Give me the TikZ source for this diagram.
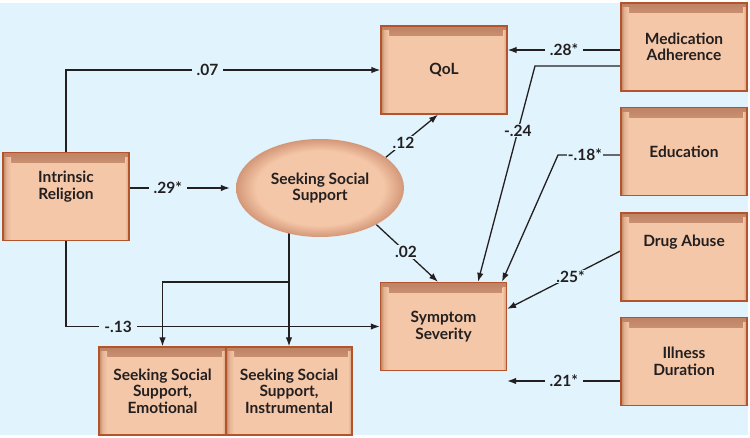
\documentclass[tikz,border=0pt]{standalone}
\usepackage{fontspec}
\setmainfont{Lato}
\usetikzlibrary{arrows.meta,shapes.geometric,calc}
\definecolor{bgblue}{HTML}{E1F3FC}
\definecolor{boxfill}{HTML}{F4C7A8}
\definecolor{boxedge}{HTML}{B4542A}
\definecolor{shadowc}{HTML}{BE8264}
\definecolor{elledge}{HTML}{D39778}
\definecolor{ink}{HTML}{231F20}
\pgfdeclarelayer{bglayer}
\pgfdeclarelayer{edgelayer}
\pgfsetlayers{bglayer,edgelayer,main}
\pgfdeclareradialshading{ellshade}{\pgfpoint{0bp}{0bp}}{color(0bp)=(boxfill); color(19bp)=(boxfill); color(25bp)=(elledge); color(50bp)=(elledge)}
\pgfdeclareverticalshading{topshade}{100bp}{color(0bp)=(boxfill); color(25bp)=(boxfill); color(55bp)=(boxfill!70!shadowc); color(75bp)=(shadowc); color(100bp)=(shadowc)}
\pgfdeclarehorizontalshading{leftshade}{100bp}{color(0bp)=(shadowc); color(25bp)=(shadowc); color(45bp)=(boxfill!70!shadowc); color(75bp)=(boxfill); color(100bp)=(boxfill)}
\begin{document}
\begin{tikzpicture}[x=1pt,y=-1pt,
  txt/.style={font=\bfseries\fontsize{15.5}{16.5}\selectfont, text=ink},
  box/.style={txt, draw=boxedge, line width=1.3pt, fill=boxfill, minimum width=126pt, minimum height=88pt, inner sep=0pt, align=center,
    path picture={
      \shade[shading=topshade] (path picture bounding box.north west) rectangle ([yshift=-10pt]path picture bounding box.north east);
      \shade[shading=leftshade] ([yshift=-5pt]path picture bounding box.north west) rectangle ([xshift=8pt]path picture bounding box.south west);
      \shade[left color=boxfill, right color=shadowc!60!boxfill] ([xshift=-4pt,yshift=-5pt]path picture bounding box.north east) rectangle (path picture bounding box.south east);
    }},
  ell/.style={txt, ellipse, shade, shading=ellshade, minimum width=168pt, minimum height=98pt, inner sep=0pt, align=center},
  arr/.style={draw=ink, line width=1.3pt, -{Latex[length=9pt,width=6.5pt]}},
  lbl/.style={txt, fill=bgblue, inner xsep=5pt, inner ysep=1pt}
]
\useasboundingbox (0,0) rectangle (750,438);
\begin{pgfonlayer}{bglayer}
\fill[bgblue] (0,3) rectangle (748,435);
\end{pgfonlayer}

\node[box] (IR) at (66,196.5) {Intrinsic\\Religion\\[6pt]};
\node[box] (QoL) at (444,70) {QoL};
\node[box] (Med) at (684,47) {Medication\\Adherence};
\node[box] (Edu) at (684,151.5) {Education};
\node[box] (Drug) at (684,257) {Drug Abuse\\~\\~};
\node[box] (Ill) at (684,361.5) {Illness\\Duration};
\node[box] (Sym) at (443.5,326.5) {Symptom\\Severity};
\node[box, minimum width=127pt] (Emo) at (162.5,391) {Seeking Social\\Support,\\Emotional};
\node[box] (Ins) at (289,391) {Seeking Social\\Support,\\Instrumental};
\node[ell] (SSS) at (320,188) {Seeking Social\\Support};

\coordinate (jy) at (0,282);
\coordinate (j) at (Ins.north |- jy);
\coordinate (m1) at (535,66);
\coordinate (e1) at (558,155);
\coordinate (i1) at ([yshift=-19.5pt]Ill.west);
\coordinate (q1) at ([yshift=-3pt]Med.west);

\begin{pgfonlayer}{edgelayer}
\draw[arr] (IR.north) |- node[lbl,pos=0.725]{.07} (QoL.west);
\draw[arr] (IR.south) |- node[lbl,pos=0.583]{-.13} (Sym.west);
\draw[arr, shorten >=6pt] (IR.east |- SSS.west) -- node[lbl,pos=0.36]{.29*} (SSS.west);
\draw[arr] (SSS.25) -- node[lbl,pos=0.34,inner xsep=3pt]{.12} ([xshift=-6pt]QoL.south);
\draw[arr] (SSS.-33) -- node[lbl,pos=0.48,inner xsep=3pt]{.02} ([xshift=-5.5pt]Sym.north);
\draw[arr] (Ins.north |- SSS.center) -- (Ins.north);
\draw[arr] (j) -| (Emo.north);
\draw[arr] (Med.west |- m1) -- (m1) -- node[lbl,pos=0.3,inner xsep=2pt]{-.24} ([xshift=34.5pt]Sym.north);
\draw[arr] (Edu.west |- e1) -- node[lbl,pos=0.57,inner xsep=1pt]{-.18*} (e1) -- ([xshift=58.5pt]Sym.north);
\draw[arr] ([yshift=6pt]Drug.west) -- node[lbl,pos=0.44]{.25*} ([yshift=17.5pt]Sym.east);
\draw[arr] (i1) -- node[lbl,pos=0.5]{.21*} (Sym.east |- i1);
\draw[arr] (q1) -- node[lbl,pos=0.5]{.28*} (QoL.east |- q1);
\end{pgfonlayer}
\end{tikzpicture}
\end{document}
